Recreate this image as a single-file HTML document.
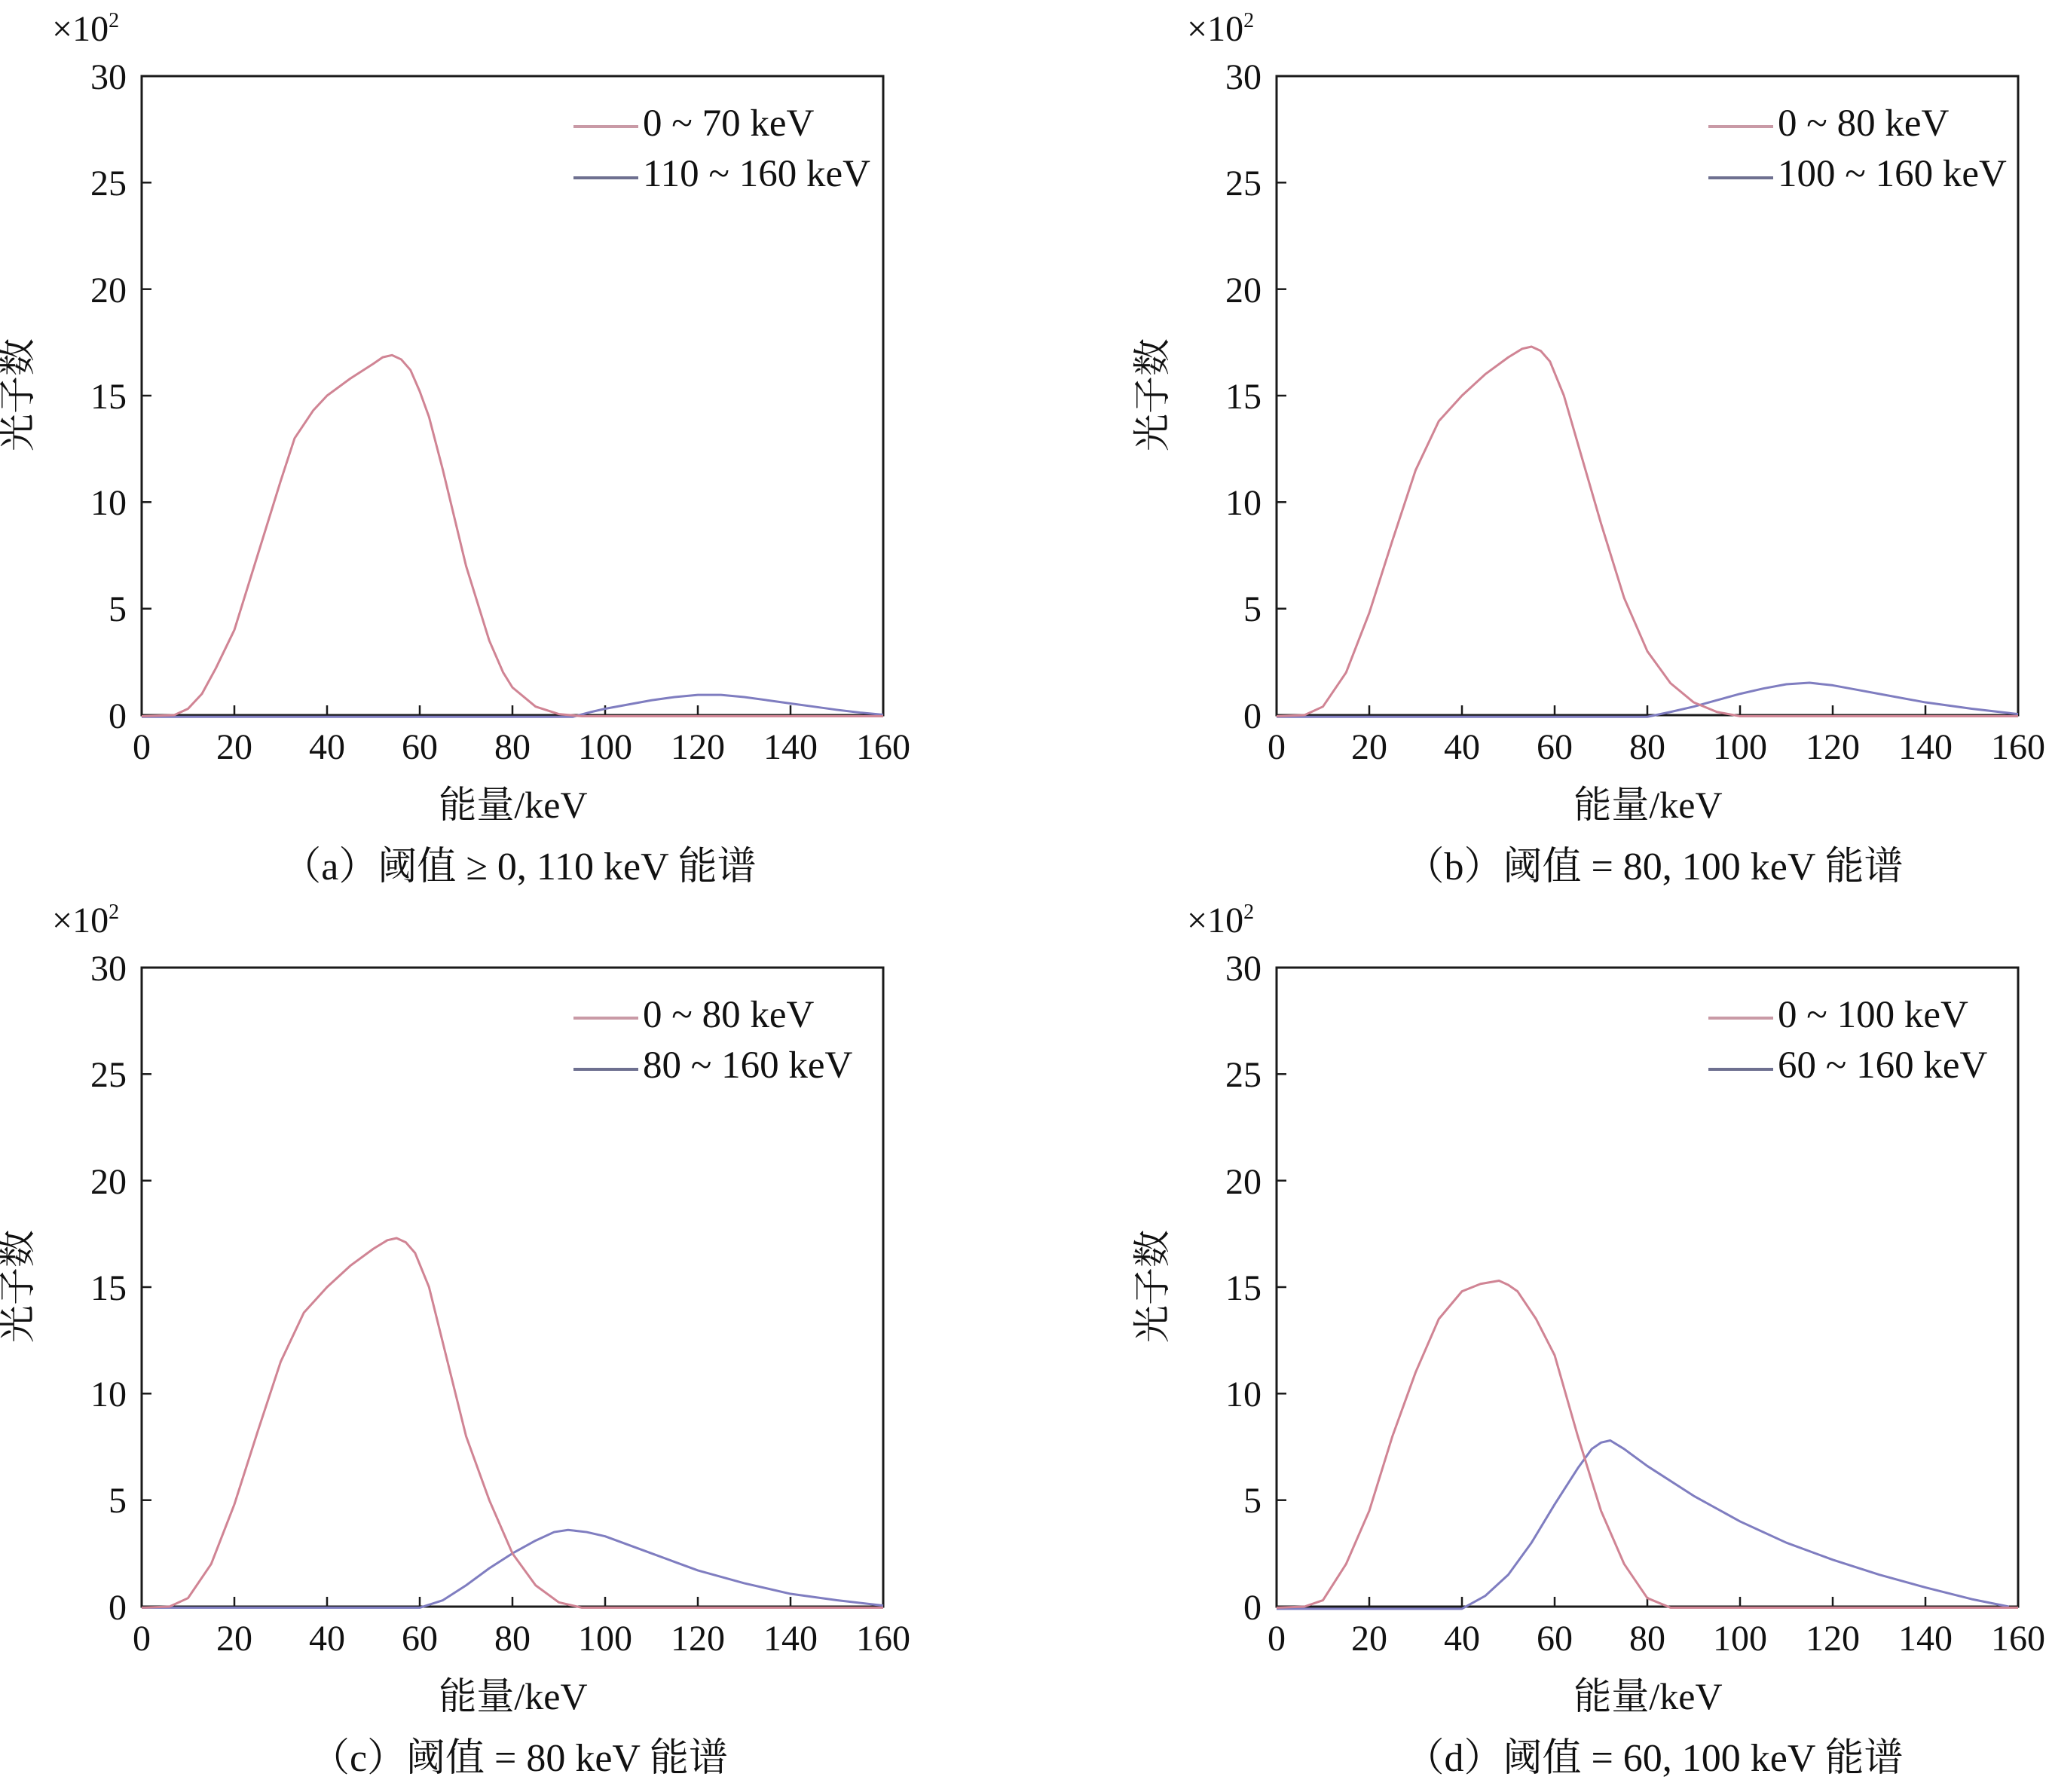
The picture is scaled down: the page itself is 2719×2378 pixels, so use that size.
<!DOCTYPE html>
<html><head><meta charset="utf-8"><style>
html,body{margin:0;padding:0;background:#fff;}
svg{display:block;}
text{font-family:"Liberation Serif","Noto Serif CJK SC",serif;fill:#111;}
</style></head><body>
<svg width="2719" height="2378" viewBox="0 0 2719 2378" xmlns="http://www.w3.org/2000/svg">
<defs>
<g id="frame">
  <rect x="188" y="101" width="984" height="848" fill="none" stroke="#1a1a1a" stroke-width="3"/>
  <g stroke="#1a1a1a" stroke-width="2.5">
    <line x1="311" y1="949" x2="311" y2="936"/><line x1="434" y1="949" x2="434" y2="936"/>
    <line x1="557" y1="949" x2="557" y2="936"/><line x1="680" y1="949" x2="680" y2="936"/>
    <line x1="803" y1="949" x2="803" y2="936"/><line x1="926" y1="949" x2="926" y2="936"/>
    <line x1="1049" y1="949" x2="1049" y2="936"/>
    <line x1="188" y1="807.7" x2="201" y2="807.7"/><line x1="188" y1="666.3" x2="201" y2="666.3"/>
    <line x1="188" y1="525" x2="201" y2="525"/><line x1="188" y1="383.7" x2="201" y2="383.7"/>
    <line x1="188" y1="242.3" x2="201" y2="242.3"/>
  </g>
  <g font-size="48" text-anchor="end">
    <text x="168" y="966">0</text><text x="168" y="824">5</text><text x="168" y="683">10</text>
    <text x="168" y="542">15</text><text x="168" y="401">20</text><text x="168" y="259">25</text>
    <text x="168" y="118">30</text>
  </g>
  <g font-size="48" text-anchor="middle">
    <text x="188" y="1007">0</text><text x="311" y="1007">20</text><text x="434" y="1007">40</text>
    <text x="557" y="1007">60</text><text x="680" y="1007">80</text><text x="803" y="1007">100</text>
    <text x="926" y="1007">120</text><text x="1049" y="1007">140</text><text x="1172" y="1007">160</text>
  </g>
  <text x="69" y="54" font-size="48">×10<tspan font-size="28" dy="-18">2</tspan></text>
  <text x="681" y="1085" font-size="50" text-anchor="middle">能量/keV</text>
  <text transform="translate(40,524) rotate(-90)" font-size="50" text-anchor="middle">光子数</text>
  <line x1="761" y1="168" x2="847" y2="168" stroke="#c99aa6" stroke-width="4"/>
  <line x1="761" y1="236" x2="847" y2="236" stroke="#6e7090" stroke-width="4"/>
</g>
</defs>

<g>
<use href="#frame"/>
<text x="853" y="180" font-size="51">0 ~ 70 keV</text>
<text x="853" y="247" font-size="51">110 ~ 160 keV</text>
<text x="689" y="1167" font-size="52" text-anchor="middle">（a）阈值 ≥ 0, 110 keV 能谱</text>
<g transform="translate(188,949) scale(6.15,-28.267)" fill="none" stroke-width="3" stroke-linejoin="round">
<polyline vector-effect="non-scaling-stroke" stroke="#7f7dc0" points="0,-0.08 93,-0.08 97,0.15 100,0.3 105,0.5 110,0.7 115,0.85 120,0.95 125,0.95 130,0.85 135,0.7 140,0.55 145,0.4 150,0.25 155,0.12 160,0.02"/>
<polyline vector-effect="non-scaling-stroke" stroke="#d08494" points="0,-0.05 7,0 10,0.3 13,1 16,2.2 20,4 25,7.5 30,11 33,13 37,14.3 40,15 45,15.8 50,16.5 52,16.8 54,16.9 56,16.7 58,16.2 60,15.2 62,14 65,11.5 70,7 75,3.5 78,2 80,1.3 85,0.4 90,0.05 95,-0.05 160,-0.05"/>
</g>
</g>

<g transform="translate(1506,0)">
<use href="#frame"/>
<text x="853" y="180" font-size="51">0 ~ 80 keV</text>
<text x="853" y="247" font-size="51">100 ~ 160 keV</text>
<text x="689" y="1167" font-size="52" text-anchor="middle">（b）阈值 = 80, 100 keV 能谱</text>
<g transform="translate(188,949) scale(6.15,-28.267)" fill="none" stroke-width="3" stroke-linejoin="round">
<polyline vector-effect="non-scaling-stroke" stroke="#7f7dc0" points="0,-0.08 80,-0.08 85,0.15 90,0.4 95,0.7 100,1.0 105,1.25 110,1.45 115,1.52 120,1.4 125,1.2 130,1.0 140,0.6 150,0.3 160,0.05"/>
<polyline vector-effect="non-scaling-stroke" stroke="#d08494" points="0,-0.05 6,0 10,0.4 15,2 20,4.8 25,8.2 30,11.5 35,13.8 40,15 45,16 50,16.8 53,17.2 55,17.3 57,17.1 59,16.6 62,15 66,12 70,9 75,5.5 80,3 85,1.5 90,0.6 95,0.15 100,-0.05 160,-0.05"/>
</g>
</g>

<g transform="translate(0,1183)">
<use href="#frame"/>
<text x="853" y="180" font-size="51">0 ~ 80 keV</text>
<text x="853" y="247" font-size="51">80 ~ 160 keV</text>
<text x="689" y="1167" font-size="52" text-anchor="middle">（c）阈值 = 80 keV 能谱</text>
<g transform="translate(188,949) scale(6.15,-28.267)" fill="none" stroke-width="3" stroke-linejoin="round">
<polyline vector-effect="non-scaling-stroke" stroke="#7f7dc0" points="0,-0.05 60,-0.05 65,0.3 70,1 75,1.8 80,2.5 85,3.1 89,3.5 92,3.6 96,3.5 100,3.3 110,2.5 120,1.7 130,1.1 140,0.6 150,0.3 160,0.05"/>
<polyline vector-effect="non-scaling-stroke" stroke="#d08494" points="0,-0.05 6,0 10,0.4 15,2 20,4.8 25,8.2 30,11.5 35,13.8 40,15 45,16 50,16.8 53,17.2 55,17.3 57,17.1 59,16.6 62,15 66,11.5 70,8 75,5 80,2.5 85,1 90,0.2 95,-0.05 160,-0.05"/>
</g>
</g>

<g transform="translate(1506,1183)">
<use href="#frame"/>
<text x="853" y="180" font-size="51">0 ~ 100 keV</text>
<text x="853" y="247" font-size="51">60 ~ 160 keV</text>
<text x="689" y="1167" font-size="52" text-anchor="middle">（d）阈值 = 60, 100 keV 能谱</text>
<g transform="translate(188,949) scale(6.15,-28.267)" fill="none" stroke-width="3" stroke-linejoin="round">
<polyline vector-effect="non-scaling-stroke" stroke="#7f7dc0" points="0,-0.1 40,-0.1 45,0.5 50,1.5 55,3 60,4.8 65,6.5 68,7.4 70,7.7 72,7.8 75,7.4 80,6.6 90,5.2 100,4 110,3 120,2.2 130,1.5 140,0.9 150,0.35 158,0"/>
<polyline vector-effect="non-scaling-stroke" stroke="#d08494" points="0,-0.05 6,0 10,0.3 15,2 20,4.5 25,8 30,11 35,13.5 40,14.8 44,15.15 48,15.3 50,15.1 52,14.8 56,13.5 60,11.8 65,8 70,4.5 75,2 80,0.4 85,-0.05 160,-0.05"/>
</g>
</g>
</svg>
</body></html>
